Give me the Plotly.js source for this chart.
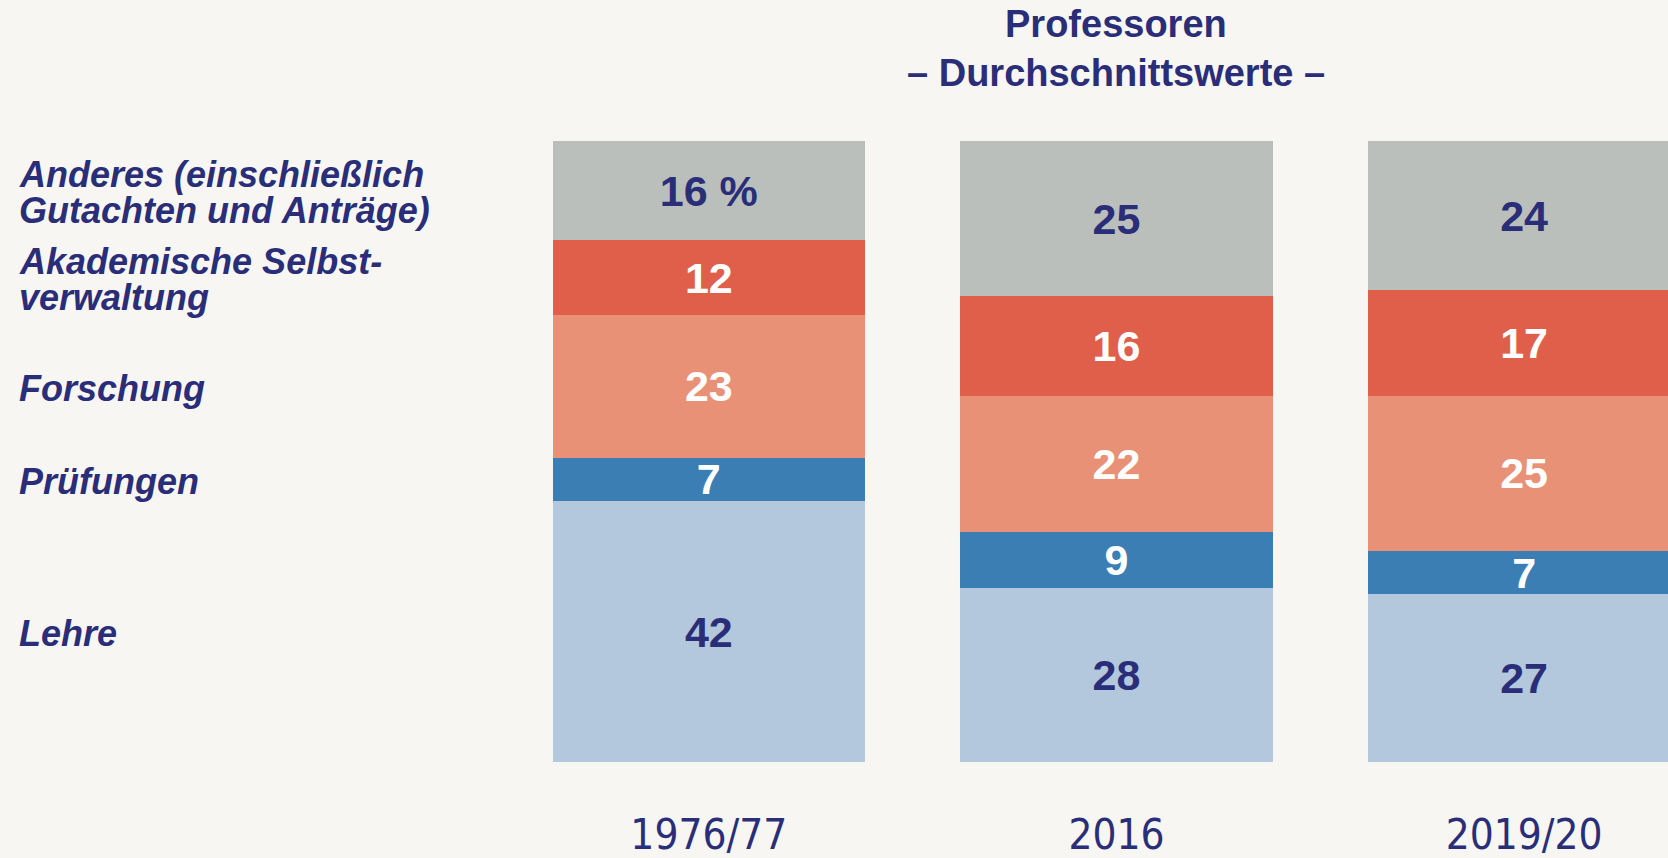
<!DOCTYPE html>
<html>
<head>
<meta charset="utf-8">
<script src="https://cdn.plot.ly/plotly-3.0.1.min.js"></script>
<style>
  html, body { margin: 0; padding: 0; background: #f8f6f3; overflow: hidden; }
  #chart { width: 1668px; height: 858px; }
</style>
</head>
<body>
<div id="chart"></div>
<script>
// ---- data ----
const years = ["1976/77", "2016", "2019/20"];
const seriesNames = ["Lehre", "Prüfungen", "Forschung", "Akademische Selbstverwaltung", "Anderes (einschließlich Gutachten und Anträge)"];
const lehre = [42, 28, 27];
const pruefungen = [7, 9, 7];
const forschung = [23, 22, 25];
const selbstverwaltung = [12, 16, 17];
const anderes = [16, 25, 24];
const sideLabels = [
  ["Lehre"],
  ["Prüfungen"],
  ["Forschung"],
  ["Akademische Selbst-", "verwaltung"],
  ["Anderes (einschließlich", "Gutachten und Anträge)"]
];
const titleLines = ["Professoren", "– Durchschnittswerte –"];
const unitSuffix = " %";

// ---- styles ----
const navy = "#2a2e78";
const bg = "#f8f6f3";
const colors = ["#b3c8dc", "#3b7eb4", "#e89176", "#e05f4b", "#bbbfbb"];
const textColors = [navy, "#ffffff", "#ffffff", "#ffffff", navy];
const allSeries = [lehre, pruefungen, forschung, selbstverwaltung, anderes];

const traces = allSeries.map((vals, i) => {
  const txt = vals.map(v => String(v));
  if (i === allSeries.length - 1) txt[0] = txt[0] + unitSuffix;
  return {
    type: "bar",
    name: seriesNames[i],
    x: years,
    y: vals,
    text: txt,
    textposition: "inside",
    insidetextanchor: "middle",
    textangle: 0,
    constraintext: "none",
    insidetextfont: { family: "Liberation Sans, Arial, sans-serif", size: 43, color: textColors[i], weight: "bold" },
    marker: { color: colors[i], line: { width: 0 } },
    hoverinfo: "skip",
    showlegend: false
  };
});

// ---- layout geometry ----
const L = 505, R = 0, T = 141, B = 96;
const W = 1668, H = 858;
const plotW = W - L - R;
const xRange = [-0.5, 2.353];
const labelLeftPx = 18;
const labelFont = { family: "Liberation Sans, Arial, sans-serif", size: 36, color: navy, weight: "bold", style: "italic" };

const annotations = [];
// side labels centred on first bar's segments
let cum = 0;
allSeries.forEach((vals, i) => {
  const mid = cum + vals[0] / 2;
  cum += vals[0];
  const lines = sideLabels[i];
  lines.forEach((ln, j) => {
    const shift = lines.length === 1 ? 0 : (j === 0 ? 18 : -18);
    annotations.push({
      xref: "paper", yref: "y",
      x: -(L - labelLeftPx) / plotW, y: mid,
      xanchor: "left", yanchor: "middle",
      yshift: shift - 2,
      borderpad: 0,
      text: ln, showarrow: false,
      font: labelFont
    });
  });
});
// title lines centred over second bar
const titleFont = { family: "Liberation Sans, Arial, sans-serif", size: 38, color: navy, weight: "bold" };
const titleY = [1.1887, 1.1087];
const titleX = (1 - xRange[0]) / (xRange[1] - xRange[0]);
titleLines.forEach((t, j) => {
  annotations.push({
    xref: "paper", yref: "paper",
    x: titleX, y: titleY[j],
    xanchor: "center", yanchor: "middle",
    borderpad: 0,
    text: t, showarrow: false, font: titleFont
  });
});

const layout = {
  width: W, height: H,
  margin: { l: L, r: R, t: T, b: B, pad: 0 },
  paper_bgcolor: bg,
  plot_bgcolor: bg,
  barmode: "stack",
  bargap: 0.234,
  xaxis: {
    type: "category",
    range: xRange,
    showgrid: false, zeroline: false, showline: false,
    ticks: "outside", ticklen: 36, tickcolor: "rgba(0,0,0,0)",
    tickfont: { family: "Liberation Sans Narrow, DejaVu Sans Condensed, sans-serif", size: 42, color: navy },
    fixedrange: true
  },
  yaxis: {
    range: [0, 100],
    visible: false,
    showgrid: false, zeroline: false,
    fixedrange: true
  },
  annotations: annotations,
  showlegend: false
};

Plotly.newPlot("chart", traces, layout, { displayModeBar: false, staticPlot: true });
</script>
</body>
</html>
